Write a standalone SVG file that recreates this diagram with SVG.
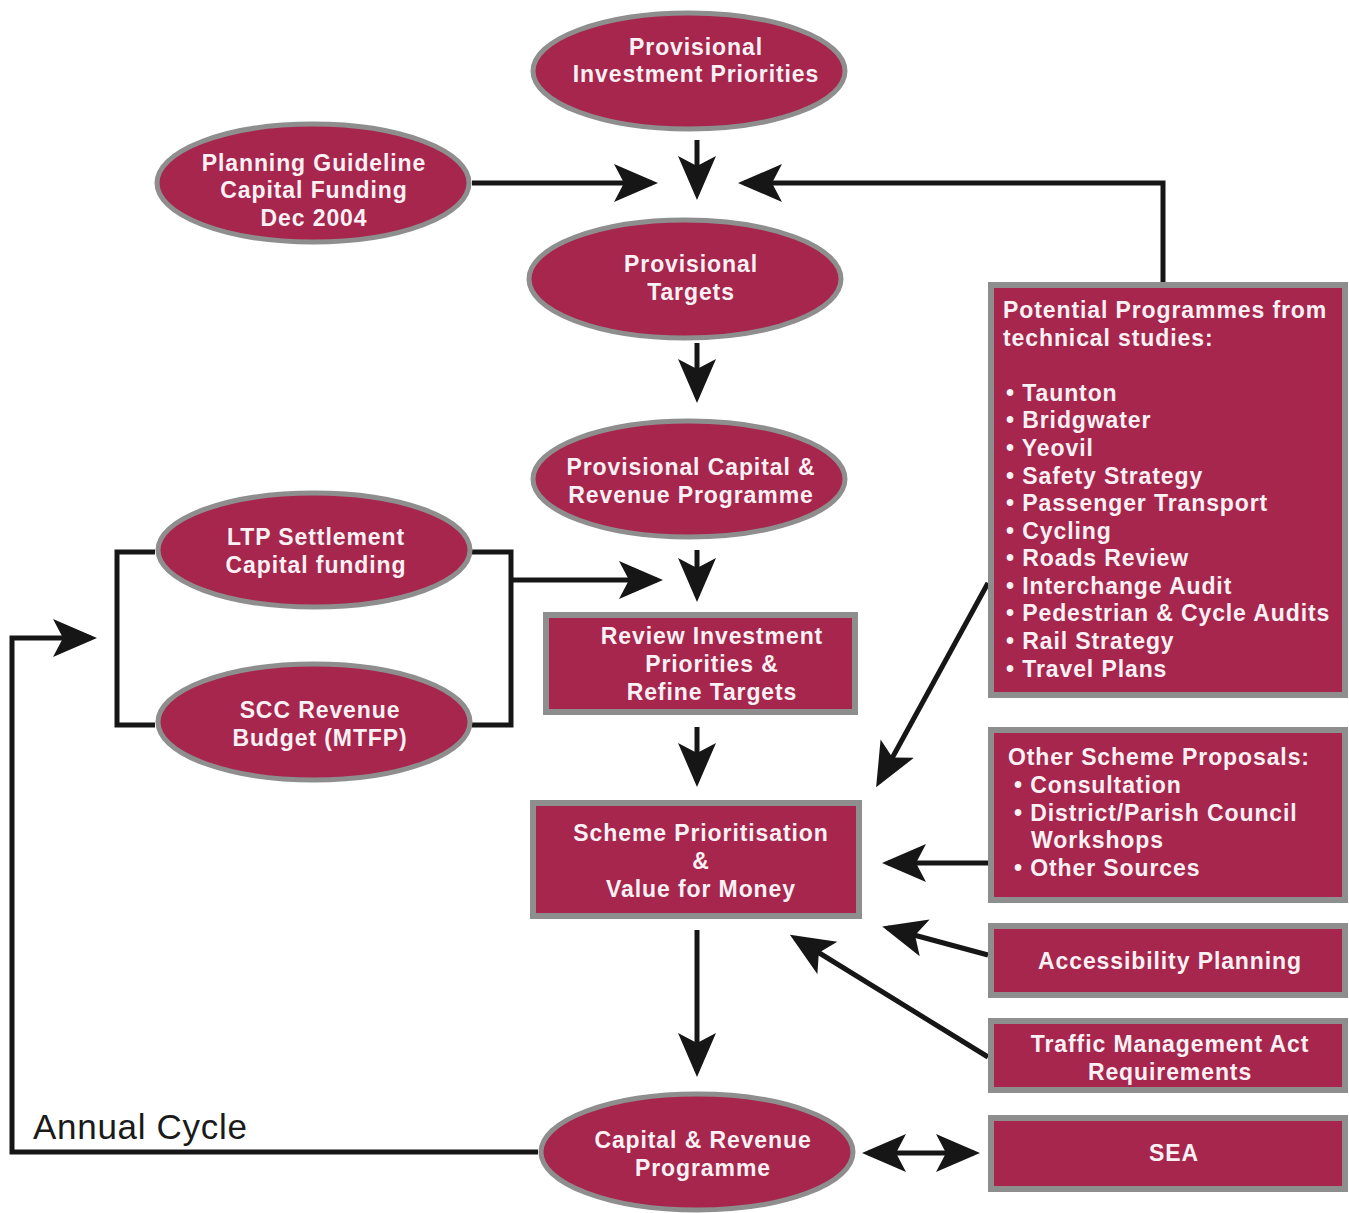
<svg xmlns="http://www.w3.org/2000/svg" width="1349" height="1213" viewBox="0 0 1349 1213">
<defs>
<marker id="ah" markerUnits="userSpaceOnUse" markerWidth="46" markerHeight="40" refX="38" refY="19" orient="auto-start-reverse">
<path d="M0,0 L44,19 L0,38 L10,19 Z" fill="#161616"/>
</marker>
</defs>
<style>
.node{fill:#a6264e;stroke:#8e8e8e;stroke-width:5}
.box{fill:#a6264e;stroke:#8e8e8e;stroke-width:6}
.t{font-family:"Liberation Sans",Arial,sans-serif;font-weight:bold;font-size:23px;letter-spacing:0.9px;fill:#fbf1f4;text-anchor:middle}
.l{text-anchor:start}
.c{fill:none;stroke:#161616;stroke-width:5;stroke-linejoin:miter}
.a{marker-end:url(#ah)}
.lab{font-family:"Liberation Sans",Arial,sans-serif;font-size:35px;letter-spacing:0.7px;fill:#1a1a1a}
</style>
<rect width="1349" height="1213" fill="#ffffff"/>
<g id="connectors">
<path class="c a" d="M697,140 V194"/>
<path class="c a" d="M472,183 H652"/>
<path class="c a" d="M1163,282 V183 H744"/>
<path class="c a" d="M697,343 V397"/>
<path class="c a" d="M697,550 V596"/>
<path class="c" d="M472,552 H511 V725 H472"/>
<path class="c a" d="M511,580 H657"/>
<path class="c" d="M155,552 H117 V725 H155"/>
<path class="c a" d="M697,727 V781"/>
<path class="c a" d="M988,583 L879,782"/>
<path class="c a" d="M988,863 H888"/>
<path class="c a" d="M988,955 L888,928"/>
<path class="c a" d="M988,1057 L795,938"/>
<path class="c a" d="M697,930 V1071"/>
<path class="c a" d="M868,1153 H974" marker-start="url(#ah)"/>
<path class="c a" d="M538,1152 H12 V638 H91"/>
</g>
<g id="n-provisional-investment">
<ellipse class="node" cx="689" cy="71" rx="156" ry="58"/>
<text class="t" x="696" y="55">Provisional</text>
<text class="t" x="696" y="82">Investment Priorities</text>
</g>
<g id="n-planning-guideline">
<ellipse class="node" cx="313" cy="183" rx="156" ry="59"/>
<text class="t" x="314" y="171">Planning Guideline</text>
<text class="t" x="314" y="198">Capital Funding</text>
<text class="t" x="314" y="226">Dec 2004</text>
</g>
<g id="n-provisional-targets">
<ellipse class="node" cx="685" cy="279" rx="156" ry="59"/>
<text class="t" x="691" y="272">Provisional</text>
<text class="t" x="691" y="300">Targets</text>
</g>
<g id="n-provisional-programme">
<ellipse class="node" cx="689" cy="479" rx="156" ry="58"/>
<text class="t" x="691" y="475">Provisional Capital &amp;</text>
<text class="t" x="691" y="503">Revenue Programme</text>
</g>
<g id="n-ltp">
<ellipse class="node" cx="314" cy="550" rx="156" ry="57"/>
<text class="t" x="316" y="545">LTP Settlement</text>
<text class="t" x="316" y="573">Capital funding</text>
</g>
<g id="n-scc">
<ellipse class="node" cx="314" cy="722" rx="156" ry="58"/>
<text class="t" x="320" y="718">SCC Revenue</text>
<text class="t" x="320" y="746">Budget (MTFP)</text>
</g>
<g id="n-review">
<rect class="box" x="546" y="615" width="309" height="97"/>
<text class="t" x="712" y="644">Review Investment</text>
<text class="t" x="712" y="672">Priorities &amp;</text>
<text class="t" x="712" y="700">Refine Targets</text>
</g>
<g id="n-scheme">
<rect class="box" x="533" y="803" width="326" height="113"/>
<text class="t" x="701" y="841">Scheme Prioritisation</text>
<text class="t" x="701" y="869">&amp;</text>
<text class="t" x="701" y="897">Value for Money</text>
</g>
<g id="n-capital-revenue">
<ellipse class="node" cx="697" cy="1152" rx="156" ry="58"/>
<text class="t" x="703" y="1148">Capital &amp; Revenue</text>
<text class="t" x="703" y="1176">Programme</text>
</g>
<g id="n-potential">
<rect class="box" x="991" y="285" width="354" height="410"/>
<text class="t l" x="1003" y="318">Potential Programmes from</text>
<text class="t l" x="1003" y="346">technical studies:</text>
<text class="t l" x="1006" y="401">• Taunton</text>
<text class="t l" x="1006" y="428">• Bridgwater</text>
<text class="t l" x="1006" y="456">• Yeovil</text>
<text class="t l" x="1006" y="484">• Safety Strategy</text>
<text class="t l" x="1006" y="511">• Passenger Transport</text>
<text class="t l" x="1006" y="539">• Cycling</text>
<text class="t l" x="1006" y="566">• Roads Review</text>
<text class="t l" x="1006" y="594">• Interchange Audit</text>
<text class="t l" x="1006" y="621">• Pedestrian &amp; Cycle Audits</text>
<text class="t l" x="1006" y="649">• Rail Strategy</text>
<text class="t l" x="1006" y="677">• Travel Plans</text>
</g>
<g id="n-other">
<rect class="box" x="991" y="730" width="354" height="170"/>
<text class="t l" x="1008" y="765">Other Scheme Proposals:</text>
<text class="t l" x="1014" y="793">• Consultation</text>
<text class="t l" x="1014" y="821">• District/Parish Council</text>
<text class="t l" x="1031" y="848">Workshops</text>
<text class="t l" x="1014" y="876">• Other Sources</text>
</g>
<g id="n-accessibility">
<rect class="box" x="991" y="926" width="354" height="69"/>
<text class="t" x="1170" y="969">Accessibility Planning</text>
</g>
<g id="n-traffic">
<rect class="box" x="991" y="1021" width="354" height="69"/>
<text class="t" x="1170" y="1052">Traffic Management Act</text>
<text class="t" x="1170" y="1080">Requirements</text>
</g>
<g id="n-sea">
<rect class="box" x="991" y="1118" width="354" height="71"/>
<text class="t" x="1174" y="1161">SEA</text>
</g>
<text class="lab" x="33" y="1139">Annual Cycle</text>
</svg>
